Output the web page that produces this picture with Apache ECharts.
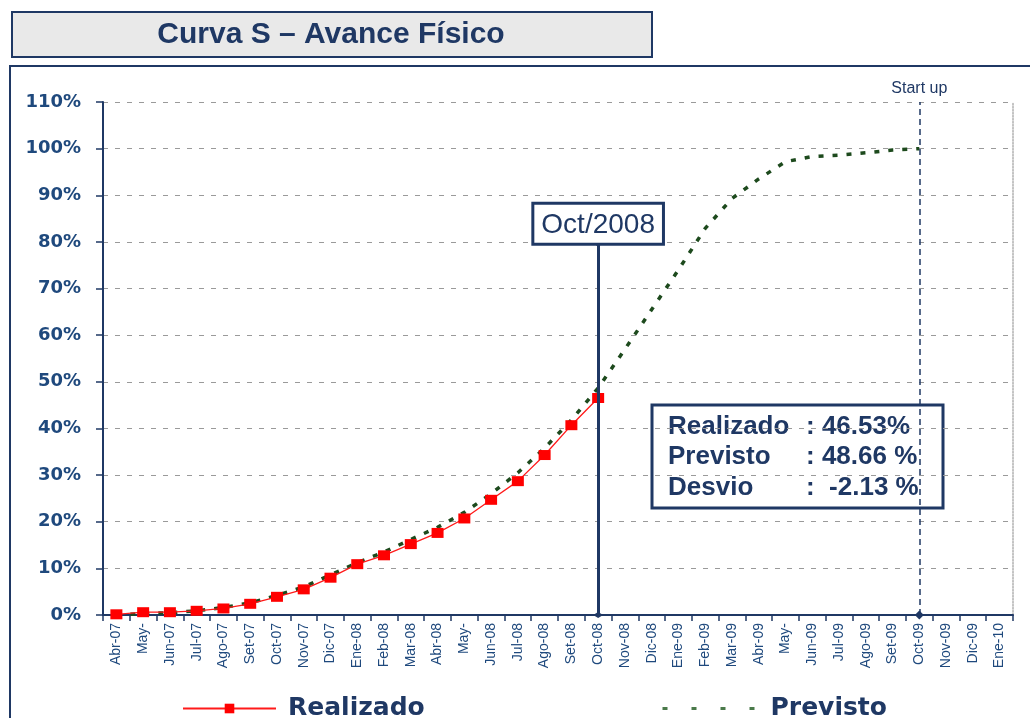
<!DOCTYPE html>
<html>
<head>
<meta charset="utf-8">
<script src="https://cdn.jsdelivr.net/npm/echarts@6/dist/echarts.min.js"></script>
<style>
  html, body { margin: 0; padding: 0; background: #fff; }
  #chart { width: 1030px; height: 718px; }
</style>
</head>
<body>
<div id="chart"></div>
<script>
// Curva S: avance físico acumulado (%) realizado vs previsto
const MONTHS = [
  'Abr-07', 'May-', 'Jun-07', 'Jul-07', 'Ago-07', 'Set-07', 'Oct-07', 'Nov-07', 'Dic-07',
  'Ene-08', 'Feb-08', 'Mar-08', 'Abr-08', 'May-', 'Jun-08', 'Jul-08', 'Ago-08', 'Set-08', 'Oct-08',
  'Nov-08', 'Dic-08', 'Ene-09', 'Feb-09', 'Mar-09', 'Abr-09', 'May-', 'Jun-09', 'Jul-09', 'Ago-09',
  'Set-09', 'Oct-09', 'Nov-09', 'Dic-09', 'Ene-10'
]

const REALIZADO = [
  0.15, 0.6, 0.6, 0.9, 1.4, 2.4, 3.9, 5.5, 8.0, 10.9, 12.8, 15.2, 17.6, 20.7, 24.7, 28.7, 34.3, 40.7, 46.53
]

const PREVISTO = [
  0.0, 0.3, 0.5, 0.9, 1.6, 2.6, 4.2, 6.0, 8.6, 11.2, 13.5, 16.2, 18.8, 22.0, 26.0, 30.5, 35.8, 41.8, 48.66,
  57.0, 65.5, 74.0, 82.9, 89.3, 93.5, 97.2, 98.3, 98.6, 99.1, 99.7, 100.0
]

const Y_MIN = 0
const Y_MAX = 110
const Y_STEP = 10

const CUT_MONTH = 'Oct-08'
const CUT_LABEL = 'Oct/2008'
const CUT_TOP = 79.8
const STARTUP_MONTH = 'Oct-09'

const INFO_NAMES = ['Realizado', 'Previsto', 'Desvio']
const INFO_VALUES = [': 46.53%', ': 48.66 %', ':  -2.13 %']

const NAVY = '#1f3864'
const GREEN = '#1d4a1d'
const RED = '#ff1a1a'

const chart = echarts.init(document.getElementById('chart'))

const infoChildren = [
  {
    type: 'rect',
    shape: { x: 0, y: 0, width: 291, height: 103 },
    style: { fill: '#fff', stroke: NAVY, lineWidth: 3 }
  }
]
INFO_NAMES.forEach((n, i) => {
  const y = [22, 52, 83][i]
  infoChildren.push({
    type: 'text', x: 16, y,
    style: { text: n, fill: NAVY, font: 'bold 26px "Liberation Sans", Arial', verticalAlign: 'middle' }
  })
  infoChildren.push({
    type: 'text', x: 154, y,
    style: { text: INFO_VALUES[i], fill: NAVY, font: 'bold 26px "Liberation Sans", Arial', verticalAlign: 'middle' }
  })
})

const legendText = {
  fontSize: 25,
  fontWeight: 'bold',
  color: NAVY,
  fontFamily: '"DejaVu Sans", Verdana',
  padding: [0, 0, 0, 7]
}

chart.setOption({
  animation: false,
  textStyle: { fontFamily: '"Liberation Sans", Arial' },
  graphic: [
    {
      type: 'rect',
      shape: { x: 12, y: 12, width: 640, height: 45 },
      style: { fill: '#e9e9e9', stroke: NAVY, lineWidth: 2 }
    },
    {
      type: 'text', x: 331, y: 35,
      style: {
        text: 'Curva S – Avance Físico', fill: NAVY,
        font: 'bold 30px "Liberation Sans", Arial', align: 'center', verticalAlign: 'middle'
      }
    },
    {
      type: 'rect',
      shape: { x: 10, y: 66, width: 1040, height: 700 },
      style: { fill: 'none', stroke: NAVY, lineWidth: 2 }
    },
    { type: 'group', x: 652, y: 405, z: 100, children: infoChildren }
  ],
  legend: [
    {
      data: ['Realizado'], left: 177, top: 691, itemWidth: 93, itemHeight: 12,
      textStyle: legendText
    },
    {
      data: ['Previsto'], left: 656, top: 691, itemWidth: 96, itemHeight: 12,
      itemStyle: { opacity: 0 },
      lineStyle: { color: '#4a7a4a', width: 3, type: [5, 24] },
      textStyle: legendText
    }
  ],
  grid: { left: 103, right: 17, top: 102, bottom: 103 },
  xAxis: {
    type: 'category',
    data: MONTHS,
    boundaryGap: true,
    axisLine: { lineStyle: { color: NAVY, width: 2 } },
    axisTick: { show: true, interval: 0, length: 6, lineStyle: { color: NAVY, width: 1.5 } },
    axisLabel: { interval: 0, rotate: 90, margin: 8, fontSize: 14, color: '#1f497d' }
  },
  yAxis: [
    {
      type: 'value',
      min: Y_MIN, max: Y_MAX, interval: Y_STEP,
      axisLine: { show: true, lineStyle: { color: NAVY, width: 2 } },
      axisTick: { show: true, length: 7, lineStyle: { color: NAVY, width: 1.5 } },
      axisLabel: {
        formatter: '{value}%', margin: 22, fontSize: 18, fontWeight: 'bold',
        color: '#1f497d', fontFamily: '"DejaVu Sans", Verdana'
      },
      splitLine: { show: true, lineStyle: { color: '#9a9a9a', type: [5, 7], width: 1.2 } }
    },
    {
      type: 'value', position: 'right',
      min: Y_MIN, max: Y_MAX, interval: Y_STEP,
      axisLine: { show: true, lineStyle: { color: '#b0b0b0', type: 'dotted', width: 1.5 } },
      axisTick: { show: false }, axisLabel: { show: false }, splitLine: { show: false }
    }
  ],
  series: [
    {
      name: 'Realizado',
      type: 'line',
      data: REALIZADO,
      z: 4,
      symbol: 'rect',
      symbolSize: [12, 10],
      itemStyle: { color: '#ff0000' },
      lineStyle: { color: RED, width: 1.3 },
      markLine: {
        silent: true,
        symbol: ['diamond', 'circle'],
        symbolSize: [10, 6],
        label: { show: false },
        lineStyle: { color: NAVY, width: 3, type: 'solid' },
        data: [[{ coord: [CUT_MONTH, 0] }, { coord: [CUT_MONTH, CUT_TOP] }]]
      },
      markPoint: {
        silent: true,
        symbol: 'circle',
        symbolSize: 6,
        itemStyle: { color: NAVY },
        label: {
          show: true, position: 'top', distance: -3,
          formatter: CUT_LABEL, fontSize: 28, color: NAVY,
          backgroundColor: '#fff', borderColor: NAVY, borderWidth: 3,
          padding: [6, 7, 4, 7]
        },
        data: [{ coord: [CUT_MONTH, CUT_TOP] }]
      }
    },
    {
      name: 'Previsto',
      type: 'line',
      data: PREVISTO,
      z: 3,
      symbol: 'none',
      itemStyle: { color: GREEN },
      lineStyle: { color: GREEN, width: 3.5, type: [5, 9] },
      markLine: {
        silent: true,
        symbol: ['diamond', 'none'],
        symbolSize: 9,
        lineStyle: { color: NAVY, width: 1.5, type: [6, 4] },
        label: {
          show: true, position: 'end', formatter: 'Start up',
          fontSize: 16, color: NAVY, distance: 5
        },
        data: [[{ coord: [STARTUP_MONTH, 0] }, { coord: [STARTUP_MONTH, Y_MAX] }]]
      }
    }
  ]
})
</script>
</body>
</html>
